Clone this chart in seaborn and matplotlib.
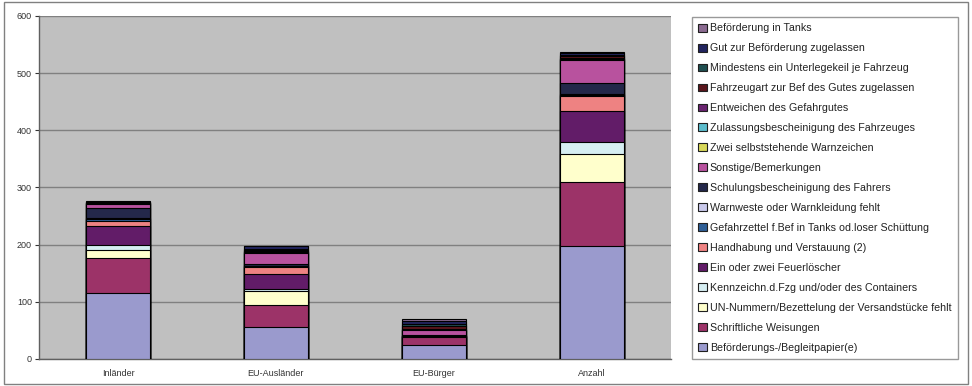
import numpy as np
import pandas as pd
import matplotlib
matplotlib.use("Agg")
import matplotlib.pyplot as plt
from matplotlib.patches import Patch, Rectangle
import seaborn as sns

sns.set_theme(style="white")
plt.rcParams['font.family'] = ['Liberation Sans', 'DejaVu Sans']

categories = ["Inländer", "EU-Ausländer", "EU-Bürger", "Anzahl"]

# series in stacking order (bottom -> top)
series_names = [
    "Beförderungs-/Begleitpapier(e)",
    "Schriftliche Weisungen",
    "UN-Nummern/Bezettelung der Versandstücke fehlt",
    "Kennzeichn.d.Fzg und/oder des Containers",
    "Ein oder zwei Feuerlöscher",
    "Handhabung und Verstauung (2)",
    "Gefahrzettel f.Bef in Tanks od.loser Schüttung",
    "Warnweste oder Warnkleidung fehlt",
    "Schulungsbescheinigung des Fahrers",
    "Sonstige/Bemerkungen",
    "Zwei selbststehende Warnzeichen",
    "Zulassungsbescheinigung des Fahrzeuges",
    "Entweichen des Gefahrgutes",
    "Fahrzeugart zur Bef des Gutes zugelassen",
    "Mindestens ein Unterlegekeil je Fahrzeug",
    "Gut zur Beförderung zugelassen",
    "Beförderung in Tanks",
]

inlaender     = [115, 61, 14, 10, 32, 10, 2, 2, 18, 7, 1, 0, 1, 1, 0, 1, 1]
eu_auslaender = [56, 38, 25, 3, 27, 12, 1, 1, 3, 20, 1, 0, 1, 3, 2, 4, 1]
eu_buerger    = [24, 14, 1, 1, 0, 0, 0, 1, 1, 9, 0, 0, 2, 4, 4, 6, 3]
anzahl        = [197, 112, 50, 20, 55, 25, 2, 2, 20, 40, 1, 1, 2, 2, 2, 4, 2]

colors = [
    "#9a9acd", "#9c3368", "#ffffcc", "#d6eef2", "#621c68", "#ee8282",
    "#2f5f96", "#c8c8ea", "#24284a", "#b8529e", "#d8d85a", "#5cbccc",
    "#6a2470", "#5a161c", "#1f4f50", "#22245e", "#8a6a90",
]

values = np.array([inlaender, eu_auslaender, eu_buerger, anzahl]).T  # series x category
cum = np.cumsum(values, axis=0)

fig = plt.figure(figsize=(9.72, 3.86), dpi=100)
fig.patch.set_facecolor("white")
ax = fig.add_axes([0.0401, 0.070, 0.650, 0.889])
ax.set_facecolor("#c0c0c0")

for i in range(len(series_names) - 1, -1, -1):
    df = pd.DataFrame({"cat": categories, "val": cum[i]})
    sns.barplot(data=df, x="cat", y="val", order=categories, color=colors[i],
                saturation=1, width=0.405, errorbar=None, edgecolor="black",
                linewidth=0.8, ax=ax, zorder=3)

ax.set_xlim(-0.5, 3.5)
ax.set_ylim(0, 600)
ax.set_yticks(np.arange(0, 601, 100))
ax.yaxis.grid(True, color="#808080", linewidth=1.0, zorder=0)
ax.set_axisbelow(True)
ax.set_xlabel("")
ax.set_ylabel("")
ax.tick_params(axis="both", labelsize=6.5, colors="#333333", length=3, width=0.8)
ax.tick_params(axis="y", left=True, pad=2)
ax.tick_params(axis="x", bottom=False, pad=4)
for s in ["top", "right"]:
    ax.spines[s].set_visible(False)
for s in ["left", "bottom"]:
    ax.spines[s].set_color("#606060")
    ax.spines[s].set_linewidth(1.0)

handles = [Patch(facecolor=colors[i], edgecolor="#202020", linewidth=0.8, label=series_names[i])
           for i in range(len(series_names) - 1, -1, -1)]
leg = fig.legend(handles=handles, loc="upper left", bbox_to_anchor=(0.712, 0.956),
                 fontsize=7.7, frameon=True, fancybox=False, handlelength=0.75,
                 handleheight=0.75, handletextpad=0.3, labelspacing=0.93,
                 borderpad=0.6, borderaxespad=0)
leg.get_frame().set_edgecolor("#808080")
leg.get_frame().set_linewidth(1.0)
for t in leg.get_texts():
    t.set_color("#222222")

fig.patches.append(Rectangle((0.004, 0.006), 0.992, 0.988, transform=fig.transFigure,
                             fill=False, edgecolor="#808080", linewidth=1.0))

fig.savefig("out.png", dpi=100)
